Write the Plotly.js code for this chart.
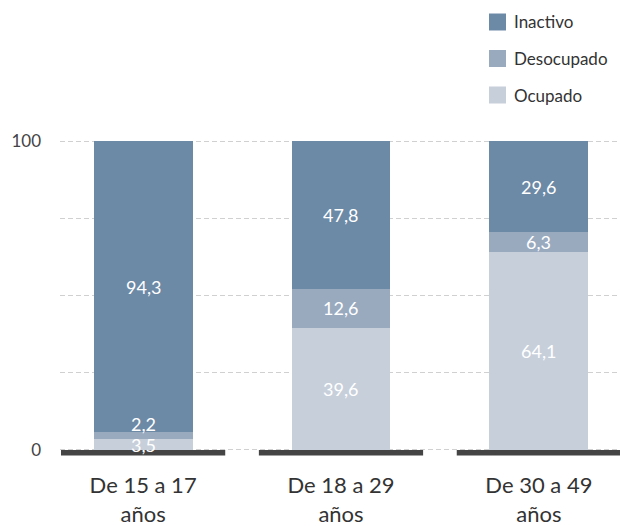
<!DOCTYPE html>
<html>
<head>
<meta charset="utf-8">
<script src="https://cdn.plot.ly/plotly-3.0.1.min.js"></script>
<style>html,body{margin:0;padding:0;background:#fff;}</style>
</head>
<body>
<div id="chart" style="width:620px;height:526px;"></div>
<script>
const categories = ["De 15 a 17<br>años", "De 18 a 29<br>años", "De 30 a 49<br>años"];
const ocupado = [3.5, 39.6, 64.1];
const desocupado = [2.2, 12.6, 6.3];
const inactivo = [94.3, 47.8, 29.6];
const seriesNames = ["Ocupado", "Desocupado", "Inactivo"];
const seriesColors = ["#c7cfdb", "#99aabf", "#6c89a6"];
const yTickVals = [0, 25, 50, 75, 100];
const yTickText = ["0", "", "", "", "100"];

const FONT = "Lato, 'Open Sans', sans-serif";
const fmt = v => v.toFixed(1).replace('.', ',');

const seriesData = [ocupado, desocupado, inactivo];
const traces = seriesData.map((vals, i) => ({
  type: 'bar',
  name: seriesNames[i],
  x: categories,
  y: vals,
  textposition: 'none',
  marker: {color: seriesColors[i], line: {width: 0}},
  width: 0.5,
  hoverinfo: 'skip',
  showlegend: false
}));

// plot geometry
const plotTop = 130, plotBottom = 460;
const yRange = [-3.24, 103.56];
const pxPerUnit = (plotBottom - plotTop) / (yRange[1] - yRange[0]);
const labelGap = 21; // min px distance between stacked labels

const annotations = [];
// value labels, centered on segments, pushed up if they would collide
categories.forEach((c, i) => {
  let base = 0;
  let prevPx = -Infinity;
  seriesData.forEach((vals, s) => {
    const v = vals[i];
    const mid = base + v / 2;
    const midPx = mid * pxPerUnit;
    const usePx = Math.max(midPx, prevPx + labelGap);
    annotations.push({
      xref: 'x', yref: 'y', x: c, y: mid,
      yshift: usePx - midPx,
      text: fmt(v), showarrow: false,
      xanchor: 'center', yanchor: 'middle',
      font: {family: FONT, size: 18, color: '#ffffff'}
    });
    prevPx = usePx;
    base += v;
  });
});

const shapes = categories.map((c, i) => ({
  type: 'rect', xref: 'x', yref: 'y',
  x0: i - 0.415, x1: i + 0.415,
  y0: 0, y1: -5.5 / pxPerUnit,
  fillcolor: '#444444', line: {width: 0}, layer: 'above'
}));

// custom legend (top right)
const legendOrder = [2, 1, 0];
legendOrder.forEach((s, k) => {
  const cy = 22 + k * 36.5; // pixel y of row center
  shapes.push({
    type: 'rect', xref: 'paper', yref: 'paper',
    x0: (489 - 60) / 560, x1: (506 - 60) / 560,
    y0: (460 - (cy + 8.5)) / (plotBottom - plotTop),
    y1: (460 - (cy - 8.5)) / (plotBottom - plotTop),
    fillcolor: seriesColors[s], line: {width: 0}
  });
  annotations.push({
    xref: 'paper', yref: 'paper',
    x: (512 - 60) / 560, y: (460 - cy) / (plotBottom - plotTop),
    xanchor: 'left', yanchor: 'middle',
    text: seriesNames[s], showarrow: false,
    font: {family: FONT, size: 17, color: '#333333'}
  });
});

const layout = {
  width: 620, height: 526,
  margin: {l: 60, r: 0, t: plotTop, b: 526 - plotBottom, pad: 0},
  barmode: 'stack',
  paper_bgcolor: '#ffffff', plot_bgcolor: '#ffffff',
  font: {family: FONT, color: '#333333'},
  showlegend: false,
  xaxis: {
    type: 'category',
    range: [-0.42, 2.41],
    showgrid: false, zeroline: false, showline: false,
    ticks: '', ticklabelstandoff: 10,
    tickfont: {family: FONT, size: 22, color: '#333333'},
    fixedrange: true
  },
  yaxis: {
    range: yRange,
    tickvals: yTickVals, ticktext: yTickText,
    showgrid: true, gridcolor: '#d0d0d0', griddash: '5px,3px', gridwidth: 1,
    zeroline: false, showline: false,
    ticks: '', ticklabelstandoff: 18,
    tickfont: {family: FONT, size: 17, color: '#444444'},
    fixedrange: true
  },
  shapes: shapes,
  annotations: annotations
};

Plotly.newPlot('chart', traces, layout, {displayModeBar: false, staticPlot: true});
</script>
</body>
</html>
